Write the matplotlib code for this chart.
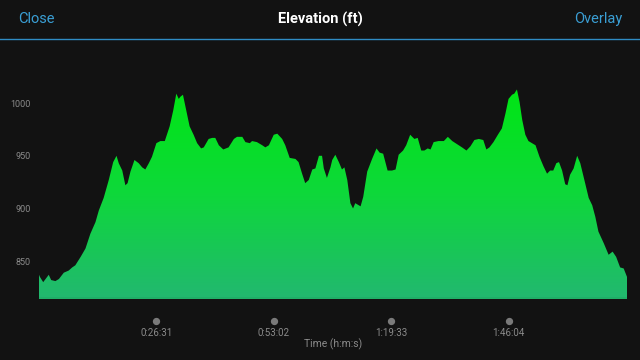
import numpy as np
import matplotlib.pyplot as plt
import matplotlib.transforms as mtransforms
from matplotlib.colors import LinearSegmentedColormap

plt.rcParams['font.family'] = ['Roboto', 'DejaVu Sans']

# elapsed time (minutes) and elevation (ft)
time_min = [0.0, 0.2, 0.95, 2.2, 2.75, 3.7, 4.5, 5.6, 6.7, 7.5, 8.2, 9.4, 10.5, 11.6,
            12.75, 13.5, 14.6, 15.75, 16.75, 17.5, 18.0, 18.8, 19.5, 20.0, 20.65,
            21.55, 22.5, 23.3, 24.0, 24.8, 25.5, 26.5, 27.4, 28.4, 29.5, 30.3, 31.0,
            31.55, 31.9, 32.5, 33.1, 34.0, 34.9, 35.7, 36.6, 37.2, 38.3, 39.1, 39.8,
            40.6, 41.6, 42.8, 44.0, 44.7, 45.9, 46.6, 47.6, 48.1, 49.2, 50.4, 51.1,
            51.9, 53.0, 53.8, 54.9, 55.6, 56.6, 57.9, 58.6, 59.4, 60.1, 60.9, 61.7,
            62.4, 63.2, 63.9, 64.3, 65.0, 65.8, 66.2, 66.9, 67.7, 68.4, 68.95, 69.6,
            70.3, 70.9, 71.4, 72.6, 73.2, 74.1, 75.2, 76.2, 76.9, 77.7, 78.7, 79.7,
            80.5, 81.2, 82.2, 82.9, 83.8, 84.75, 85.5, 86.3, 87.0, 87.75, 88.4, 89.1,
            90.2, 91.4, 92.3, 93.3, 94.4, 95.5, 96.5, 97.4, 98.3, 99.3, 100.3, 101.0,
            101.7, 102.6, 103.6, 104.5, 105.3, 106.0, 106.8, 107.3, 107.9, 108.5,
            109.1, 109.8, 110.5, 112.1, 113.0, 113.9, 114.7, 115.4, 116.1, 116.8,
            117.4, 118.1, 118.8, 119.3, 119.9, 120.7, 121.5, 122.2, 123.3, 124.1,
            124.9, 125.6, 126.3, 127.5, 128.6, 129.5, 130.3, 131.2, 132.0, 132.75]
elev_ft = [837, 835, 830, 837, 832, 831, 833, 839, 841, 844, 846, 854, 862, 876,
           887, 898, 910, 927, 944, 950, 943, 936, 922, 924, 935,
           946, 943, 939, 937, 943, 949, 962, 964, 964, 978, 993, 1009,
           1004, 1006, 1008, 996, 978, 970, 962, 957, 958, 966, 967, 967,
           960, 956, 958, 966, 968, 968, 963, 962, 964, 963, 960, 958,
           960, 970, 971, 966, 960, 948, 947, 944, 933, 924, 927, 937,
           938, 950, 950, 938, 929, 939, 946, 951, 944, 937, 939, 927,
           905, 900, 905, 902, 911, 935, 947, 957, 953, 952, 936, 936,
           937, 951, 955, 960, 970, 966, 967, 955, 955, 957, 956, 963,
           964, 964, 968, 964, 961, 958, 955, 959, 965, 966, 965, 956,
           958, 963, 970, 976, 990, 1004, 1008, 1009, 1013, 1001,
           984, 970, 964, 960, 949, 940, 933, 936, 936, 943,
           944, 936, 923, 922, 932, 938, 950, 943, 924, 910,
           903, 892, 878, 867, 856, 859, 854, 844, 843, 835]

tick_pos = [26.517, 53.033, 79.55, 106.067]
tick_labels = ['0:26:31', '0:53:02', '1:19:33', '1:46:04']
y_ticks = [850, 900, 950, 1000]

bg = '#121212'
blue = '#3a9fd5'
ymin, ymax = 814, 1040

fig = plt.figure(figsize=(6.4, 3.6), dpi=100, facecolor=bg)

# header
fig.text(18 / 640, 1 - 19 / 360, 'Close', color=blue, fontsize=10.5, va='center', ha='left')
fig.text(0.5, 1 - 19 / 360, 'Elevation (ft)', color='white', fontsize=10.5,
         fontweight='bold', va='center', ha='center')
fig.text(622 / 640, 1 - 19 / 360, 'Overlay', color=blue, fontsize=10.5, va='center', ha='right')
fig.add_artist(plt.Line2D([0, 1], [1 - 38.5 / 360, 1 - 38.5 / 360], color='#2f8cc4', lw=1.0))

ax_h = (ymax - ymin) * 1.053 / 360
ax = fig.add_axes([39 / 640, 61 / 360, 588 / 640, ax_h])
ax.set_facecolor(bg)
ax.set_xlim(0, time_min[-1])
ax.set_ylim(ymin, ymax)

# gradient fill clipped to the elevation area
cmap = LinearSegmentedColormap.from_list('elev', ['#22b870', '#0ed83a', '#00e614'])
grad = np.linspace(0, 1, 256).reshape(-1, 1)
img = ax.imshow(grad, extent=[0, time_min[-1], ymin, 1015], origin='lower',
                cmap=cmap, aspect='auto', zorder=2)
poly = ax.fill_between(time_min, elev_ft, ymin, color='none', lw=0)
clip = poly.get_paths()[0]
img.set_clip_path(clip, transform=ax.transData)
ax.axhline(ymin + 0.6, color='#1fae66', lw=1.2, zorder=3)

for s in ax.spines.values():
    s.set_visible(False)

ax.set_yticks(y_ticks)
ax.set_yticklabels([str(v) for v in y_ticks])
ax.tick_params(axis='y', length=0, pad=6, labelsize=6.5, labelcolor='#8a8a8a')

ax.set_xticks(tick_pos)
ax.set_xticklabels(tick_labels)
ax.tick_params(axis='x', length=0, pad=21, labelsize=7, labelcolor='#8a8a8a')

trans = mtransforms.blended_transform_factory(ax.transData, ax.transAxes)
dot_y = -22 / (ax_h * 360)
ax.scatter(tick_pos, [dot_y] * len(tick_pos), s=18, color='#7a7a7a', transform=trans,
           clip_on=False, zorder=5)

ax.set_xlabel('Time (h:m:s)', color='#8a8a8a', fontsize=7.5, labelpad=0)

fig.savefig('out.png', dpi=100, facecolor=bg)
